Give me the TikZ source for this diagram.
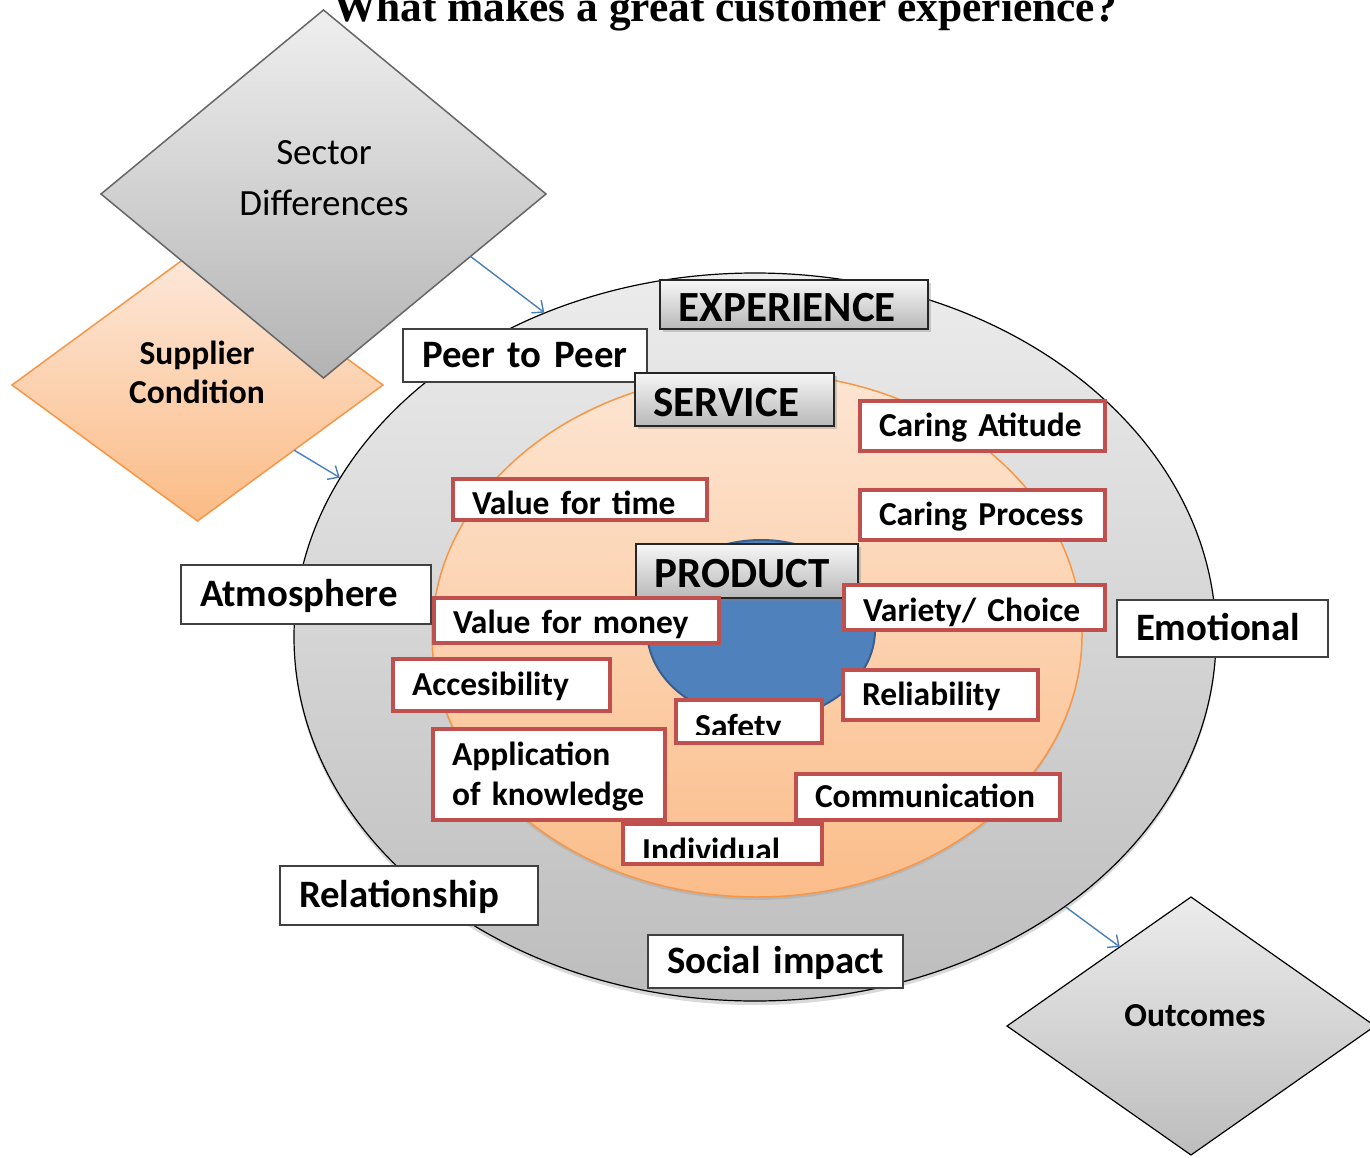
\documentclass[tikz,border=0pt]{standalone}
\usepackage{fontspec}
\setmainfont{Carlito}
\newfontfamily\headfont{Liberation Serif}
\usetikzlibrary{shapes.geometric,shadows,arrows.meta}

\definecolor{ringtop}{HTML}{ECECEC}
\definecolor{ringbot}{HTML}{BDBDBD}
\definecolor{peachtop}{HTML}{FDE5D2}
\definecolor{peachbot}{HTML}{FBBD8A}
\definecolor{peachline}{HTML}{F79646}
\definecolor{coreblue}{HTML}{4F81BD}
\definecolor{coreline}{HTML}{3A5F8C}
\definecolor{tagtop}{HTML}{F7F7F7}
\definecolor{tagbot}{HTML}{B9B9B9}
\definecolor{tagline}{HTML}{262626}
\definecolor{plainline}{HTML}{404040}
\definecolor{factorline}{HTML}{C0504D}
\definecolor{flowblue}{HTML}{4A7EBB}
\definecolor{sectline}{HTML}{666666}
\definecolor{sectortop}{HTML}{EFEFEF}
\definecolor{sectorbot}{HTML}{B3B3B3}
\definecolor{supplytop}{HTML}{FDE9DC}
\definecolor{supplybot}{HTML}{FBBB85}

\begin{document}
\begin{tikzpicture}[x=1pt,y=-1pt,
  lbl/.style={rectangle, inner xsep=19pt, inner ysep=0pt, align=left, text depth=0pt},
  tagbox/.style={lbl, draw=tagline, line width=2pt, top color=tagtop, bottom color=tagbot,
     font=\fontsize{43}{49}\selectfont\bfseries, text height=34.5pt,
     drop shadow={opacity=0.35, shadow xshift=3pt, shadow yshift=-3pt}},
  plainbox/.style={lbl, draw=plainline, line width=1.5pt, fill=white,
     font=\fontsize{38.8}{45}\selectfont\bfseries, text height=24.5pt},
  factorbox/.style={lbl, draw=factorline, line width=4.5pt, fill=white,
     font=\fontsize{33.5}{40}\selectfont\bfseries, text height=21.5pt,
     drop shadow={opacity=0.25, shadow xshift=2pt, shadow yshift=-2pt}},
  factortext/.style={inner sep=0pt, anchor=base west, font=\fontsize{33.5}{40}\selectfont\bfseries},
  flow/.style={draw=flowblue, line width=1.4pt, -{Straight Barb[length=9pt,width=16pt]}},
  rhomb/.style={diamond, inner sep=0pt, outer sep=0pt, line width=1.5pt},
]
\useasboundingbox (0,0) rectangle (1370,1158);

% side diamonds
\node[rhomb, draw=peachline, top color=supplytop, bottom color=supplybot,
      minimum width=371pt, minimum height=272pt] (supplier) at (197.5,385) {};
\node[rhomb, draw=sectline, top color=sectortop, bottom color=sectorbot,
      minimum width=445pt, minimum height=368pt] (sector) at (323.5,194) {};
\node[font=\fontsize{37}{51}\selectfont, align=center] (sectortext) at (324,178.5) {Sector\\Differences};
\node[font=\fontsize{33.5}{39}\selectfont\bfseries, align=center] (suppliertext) at (197,372.75) {Supplier\\Condition};

\node[rhomb, draw=black, line width=1.2pt, top color=ringtop, bottom color=ringbot,
      minimum width=368pt, minimum height=258pt] (outcomes) at (1191,1026) {};
\node[font=\fontsize{33.5}{40}\selectfont\bfseries, anchor=base] (outcometext) at (1195,1026) {Outcomes};

% nested rings
\node[ellipse, draw=black, line width=1.2pt, top color=ringtop, bottom color=ringbot,
      minimum width=922pt, minimum height=728pt,
      drop shadow={opacity=0.3, shadow xshift=0pt, shadow yshift=-4pt}] (experiencering) at (755,637) {};
\node[ellipse, draw=peachline, line width=1.5pt, top color=peachtop, bottom color=peachbot,
      minimum width=650pt, minimum height=524pt,
      drop shadow={opacity=0.2, shadow xshift=0pt, shadow yshift=-3pt}] (servicering) at (757,635) {};
\node[ellipse, draw=coreline, line width=2pt, fill=coreblue,
      minimum width=228pt, minimum height=180pt] (productcore) at (761,630) {};

% flows
\draw[flow] (sector.-23.7) -- (experiencering.123.8);
\draw[flow] (supplier.-34.8) -- (experiencering.159.3);
\draw[flow] (experiencering.-41.6) -- (outcomes.132.7);

% outer labels
\node[plainbox, minimum width=244pt, minimum height=53pt, text width=206pt] (peer) at (525,355.5) {\mbox{Peer to Peer}};
\node[plainbox, minimum width=250pt, minimum height=59pt, text width=212pt] (atmosphere) at (306,594.5) {\mbox{Atmosphere}};
\node[plainbox, minimum width=211pt, minimum height=57pt, text width=173pt] (emotional) at (1222.5,628.5) {\mbox{Emotional}};
\node[plainbox, minimum width=258pt, minimum height=59pt, text width=220pt] (relationship) at (409,895.5) {\mbox{Relationship}};
\node[plainbox, minimum width=255pt, minimum height=53pt, text width=217pt] (social) at (775.5,961.5) {\mbox{Social impact}};

% ring titles
\node[tagbox, minimum width=268pt, minimum height=48pt, text width=230pt] (experience) at (793.5,304.5) {\mbox{EXPERIENCE}};
\node[tagbox, minimum width=199pt, minimum height=53pt, text width=161pt] (service) at (734,399) {\mbox{SERVICE}};
\node[tagbox, minimum width=222pt, minimum height=54pt, text width=184pt] (product) at (746.5,570.5) {\mbox{PRODUCT}};

% factors
\node[factorbox, minimum width=245pt, minimum height=50pt, text width=207pt] (attitude) at (982.5,426) {\mbox{Caring Atitude}};
\node[factorbox, minimum width=245pt, minimum height=50pt, text width=207pt] (process) at (982.5,515) {\mbox{Caring Process}};
\node[factorbox, minimum width=254pt, minimum height=41pt, text width=216pt, text height=29.5pt] (valuetime) at (580,499.5) {\mbox{Value for time}};
\node[factorbox, minimum width=285pt, minimum height=45pt, text width=247pt, text height=25.5pt] (valuemoney) at (576.5,620.5) {\mbox{Value for money}};
\node[factorbox, minimum width=261pt, minimum height=45pt, text width=223pt, text height=27.5pt] (variety) at (974.5,607.5) {\mbox{Variety/ Choice}};
\node[factorbox, minimum width=217pt, minimum height=52pt, text width=179pt] (access) at (501.5,685) {\mbox{Accesibility}};
\node[factorbox, minimum width=195pt, minimum height=50pt, text width=157pt] (reliability) at (940.5,695) {\mbox{Reliability}};
\node[factorbox, minimum width=146pt, minimum height=43pt] (safety) at (749,721.5) {};
\begin{scope}
  \clip (676,700) rectangle (822,734.5);
  \node[factortext] (safetytext) at (695,737) {Safety};
\end{scope}
\node[factorbox, minimum width=232pt, minimum height=91pt, text width=194pt, text depth=40pt] (knowledge) at (549,774.5) {\mbox{Application}\\\mbox{of knowledge}};
\node[factorbox, minimum width=264pt, minimum height=46pt, text width=226pt] (communication) at (928,797) {\mbox{Communication}};
\node[factorbox, minimum width=199pt, minimum height=40pt] (individual) at (722.5,844) {};
\begin{scope}
  \clip (623,824) rectangle (822,857);
  \node[factortext] (individualtext) at (642,861) {Individual};
\end{scope}

% heading
\node[font=\headfont\bfseries\fontsize{43.4}{50}\selectfont, anchor=base] (title) at (725,22) {What makes a great customer experience?};
\end{tikzpicture}
\end{document}
